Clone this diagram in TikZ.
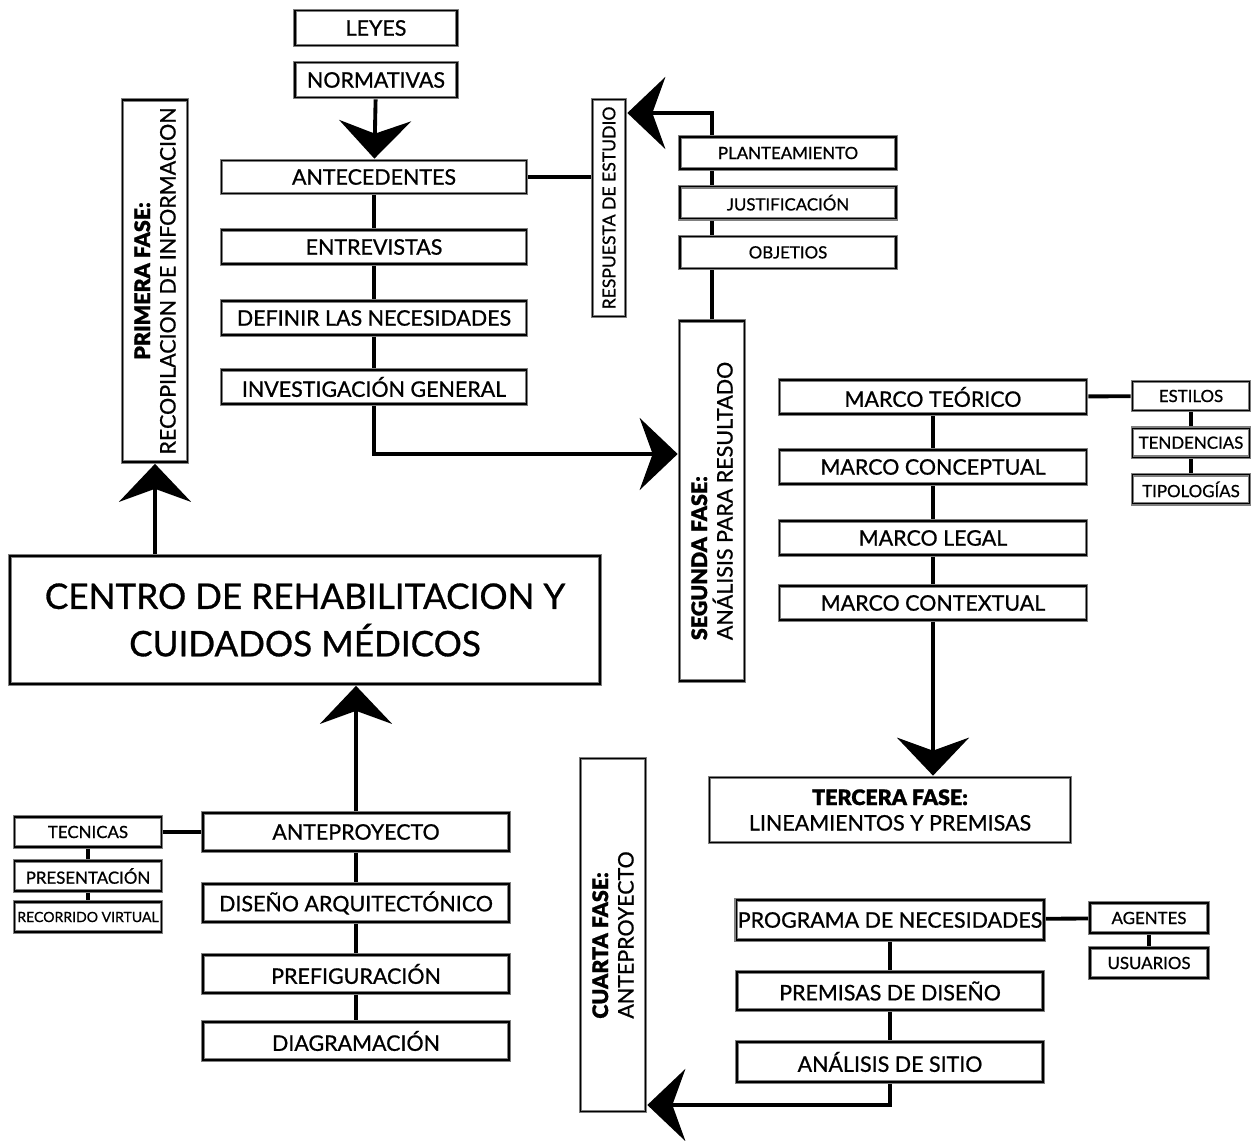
\documentclass[tikz,border=0pt]{standalone}
\usepackage{fontspec}
\setmainfont{Lato}[RawFeature={embolden=0.8}, BoldFont={Lato Black}]
\usetikzlibrary{arrows.meta,positioning}

\tikzset{
	box/.style={draw=black!50, line width=2.1pt, fill=white, inner sep=1pt, align=center,
		postaction={draw=black, line width=0.6pt}},
	vbox/.style={box, rotate=90},
	sz/.style 2 args={minimum width=#1*0.02cm, minimum height=#2*0.02cm},
	fbig/.style={font=\fontsize{20}{27}\selectfont},
	fm/.style={font=\fontsize{12.2}{14.5}\selectfont},
	fs/.style={font=\fontsize{9.6}{11}\selectfont},
	ft/.style={font=\fontsize{8}{9}\selectfont},
	link/.style={draw, line width=2.2pt},
	big/.style={-{Stealth[length=0.76cm,width=1.44cm,inset=0.26cm]}, line width=2.2pt},
}

\begin{document}
\begin{tikzpicture}[x=0.02cm, y=-0.02cm]
	\useasboundingbox (0,0) rectangle (1257,1141);

	% primera fase
	\node [box, sz={162}{35}, fm] (leyes) at (376,28) {LEYES};
	\node [box, sz={162}{35}, fm] (norm) at (376,80) {NORMATIVAS};
	\node [box, sz={305}{33}, fm] (ante) at (374,177) {ANTECEDENTES};
	\node [box, sz={305}{34}, fm] (entr) at (374,247) {ENTREVISTAS};
	\node [box, sz={305}{34}, fm] (def) at (374,318) {DEFINIR LAS NECESIDADES};
	\node [box, sz={305}{34}, fm] (inv) at (374,387) {INVESTIGACIÓN GENERAL};
	\node [vbox, sz={362}{65}, fm] (prim) at (155,281) {{\bfseries PRIMERA FASE:}\\RECOPILACION DE INFORMACION};

	\node [box, sz={590}{128}, fbig] (centro) at (305,620) {CENTRO DE REHABILITACION Y\\CUIDADOS MÉDICOS};

	% segunda fase
	\node [vbox, sz={217}{33}, font=\fontsize{10}{12}\selectfont] (resp) at (609,208) {RESPUESTA DE ESTUDIO};
	\node [box, sz={216}{32}, fs] (plan) at (788,153) {PLANTEAMIENTO};
	\node [box, sz={216}{32}, fs] (just) [below=0.28cm of plan] {JUSTIFICACIÓN};
	\node [box, sz={216}{32}, fs] (obj) [below=0.28cm of just] {OBJETIOS};
	\node [vbox, sz={360}{65}, fm, align=left] (seg) at (712,501) {{\bfseries SEGUNDA FASE:}\\ANÁLISIS PARA RESULTADO};

	% tercera fase
	\node [box, sz={307}{34}, fm] (teo) at (933,397) {MARCO TEÓRICO};
	\node [box, sz={307}{34}, fm] (conc) at (933,467) {MARCO CONCEPTUAL};
	\node [box, sz={307}{34}, fm] (legal) at (933,538) {MARCO LEGAL};
	\node [box, sz={307}{34}, fm] (ctx) at (933,603) {MARCO CONTEXTUAL};
	\node [box, sz={117}{29}, fs] (est) at (1191,396) {ESTILOS};
	\node [box, sz={117}{29}, fs] (tend) [below=0.28cm of est] {TENDENCIAS};
	\node [box, sz={117}{29}, fs] (tip) [below=0.28cm of tend] {TIPOLOGÍAS};
	\node [box, sz={361}{65}, fm] (ter) at (890,810) {{\bfseries TERCERA FASE:}\\LINEAMIENTOS Y PREMISAS};

	% cuarta fase
	\node [vbox, sz={353}{65}, fm, align=left] (cua) at (613,935) {{\bfseries CUARTA FASE:}\\ANTEPROYECTO};
	\node [box, sz={306}{40}, fm] (prog) at (890,920) {PROGRAMA DE NECESIDADES};
	\node [box, sz={306}{38}, fm] (prem) at (890,991) {PREMISAS DE DISEÑO};
	\node [box, sz={306}{40}, fm] (anal) at (890,1062) {ANÁLISIS DE SITIO};
	\node [box, sz={118}{30}, fs] (agen) at (1149,918) {AGENTES};
	\node [box, sz={118}{30}, fs] (usu) at (1149,963) {USUARIOS};

	\node [box, sz={306}{38}, fm] (antp) at (356,832) {ANTEPROYECTO};
	\node [box, sz={306}{38}, fm] (dis) at (356,903) {DISEÑO ARQUITECTÓNICO};
	\node [box, sz={306}{38}, fm] (pref) at (356,974) {PREFIGURACIÓN};
	\node [box, sz={306}{38}, fm] (diag) at (356,1041) {DIAGRAMACIÓN};
	\node [box, sz={147}{30}, fs] (tec) at (88,832) {TECNICAS};
	\node [box, sz={147}{30}, fs] (pres) at (88,876) {PRESENTACIÓN};
	\node [box, sz={147}{30}, ft] (rec) at (88,917) {RECORRIDO VIRTUAL};

	\coordinate (segin) at (seg.north |- 0,454);
	\coordinate (respin) at (resp.south |- 0,113);
	\coordinate (cuain) at (cua.south |- 0,1105);

	% conectores
	\draw [big] (norm) -- (ante);
	\draw [link] (ante) -- (entr) (entr) -- (def) (def) -- (inv);
	\draw [big] (inv.south) |- (segin);
	\draw [link] (ante.east) -- (ante.east -| resp.north);
	\draw [big] (prim.west |- centro.north) -- (prim.west);

	\draw [link] (seg.east) -- (seg.east |- obj.south);
	\draw [link] (seg.east |- obj.north) -- (seg.east |- just.south);
	\draw [link] (seg.east |- just.north) -- (seg.east |- plan.south);
	\draw [big] (seg.east |- plan.north) |- (respin);

	\draw [link] (teo) -- (est);
	\draw [link] (est) -- (tend) (tend) -- (tip);
	\draw [link] (teo) -- (conc) (conc) -- (legal) (legal) -- (ctx);
	\draw [big] (ctx.south) -- (ctx.south |- ter.north);

	\draw [link] (prog) -- (agen);
	\draw [link] (agen) -- (usu);
	\draw [link] (prog) -- (prem) (prem) -- (anal);
	\draw [big] (anal.south) |- (cuain);

	\draw [big] (antp) -- (antp |- centro.south);
	\draw [link] (tec) -- (antp);
	\draw [link] (tec) -- (pres) (pres) -- (rec);
	\draw [link] (antp) -- (dis) (dis) -- (pref) (pref) -- (diag);
\end{tikzpicture}
\end{document}
